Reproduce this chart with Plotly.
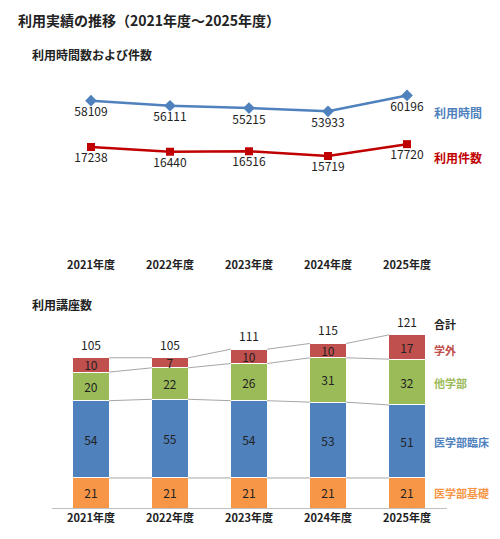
import plotly.graph_objects as go

years = ['2021年度', '2022年度', '2023年度', '2024年度', '2025年度']
hours = [58109, 56111, 55215, 53933, 60196]
cases = [17238, 16440, 16516, 15719, 17720]

kiso = [21, 21, 21, 21, 21]
rinsho = [54, 55, 54, 53, 51]
tagakubu = [20, 22, 26, 31, 32]
gakugai = [10, 7, 10, 10, 17]
totals = [105, 105, 111, 115, 121]

H = 539.0
OFF = 6  # rendered output sits a few px lower than the nominal layout
def py(p):
    return 1 - (p - OFF) / H

x = list(range(len(years)))
fig = go.Figure()

# top: line chart (two scales, as in the source)
fig.add_trace(go.Scatter(x=x, y=hours, mode='lines+markers+text', text=[str(v) for v in hours],
                         textposition='bottom center', textfont=dict(size=12, color='#222'),
                         line=dict(color='#4F81BD', width=2.5), marker=dict(symbol='diamond', size=9),
                         xaxis='x', yaxis='y', cliponaxis=False))
fig.add_trace(go.Scatter(x=x, y=cases, mode='lines+markers+text', text=[str(v) for v in cases],
                         textposition='bottom center', textfont=dict(size=12, color='#222'),
                         line=dict(color='#C00000', width=2.5), marker=dict(symbol='square', size=8),
                         xaxis='x', yaxis='y3', cliponaxis=False))

# bottom: stacked bars
w = 0.46
for vals, col in [(kiso, '#F79646'), (rinsho, '#4F81BD'), (tagakubu, '#9BBB59'), (gakugai, '#C0504D')]:
    fig.add_trace(go.Bar(x=x, y=vals, width=w, marker=dict(color=col, line=dict(color='white', width=1)),
                         text=[str(v) for v in vals], textposition='inside', insidetextanchor='middle',
                         textangle=0, constraintext='none',
                         textfont=dict(size=12, color='#222'), xaxis='x2', yaxis='y2'))

# connector lines between segment boundaries
levels = [kiso]
cum = kiso[:]
for s in [rinsho, tagakubu, gakugai]:
    cum = [a + b for a, b in zip(cum, s)]
    levels.append(cum)
lx, ly = [], []
for lev in levels:
    for i in range(len(x) - 1):
        lx += [x[i] + w / 2, x[i + 1] - w / 2, None]
        ly += [lev[i], lev[i + 1], None]
fig.add_trace(go.Scatter(x=lx, y=ly, mode='lines', line=dict(color='#A6A6A6', width=1),
                         xaxis='x2', yaxis='y2', hoverinfo='skip'))
for xi, t in zip(x, totals):
    fig.add_annotation(x=xi, y=t, xref='x2', yref='y2', text=str(t), showarrow=False,
                       yanchor='bottom', yshift=3, font=dict(size=12, color='#222'))

xd = [43.5 / 500, 438.5 / 500]
bold_years = ['<b>' + y + '</b>' for y in years]
fig.update_layout(
    width=500, height=539, margin=dict(l=0, r=0, t=0, b=0),
    paper_bgcolor='white', plot_bgcolor='white', showlegend=False, barmode='stack',
    font=dict(family='Noto Sans CJK JP', size=11, color='#222'),
    xaxis=dict(domain=xd, range=[-0.5, 4.5], tickvals=x, ticktext=bold_years, showgrid=False,
               zeroline=False, showline=False, anchor='y', ticks='', tickfont=dict(size=11)),
    yaxis=dict(domain=[py(255), py(80)], range=[-3426, 65471], visible=False),
    yaxis3=dict(domain=[py(255), py(80)], range=[-1343, 28218], visible=False, overlaying='y'),
    xaxis2=dict(domain=xd, range=[-0.5, 4.5], tickvals=x, ticktext=bold_years, showgrid=False,
                zeroline=False, showline=True, linecolor='#BFBFBF', anchor='y2', ticks='',
                tickfont=dict(size=11)),
    yaxis2=dict(domain=[py(506), py(310)], range=[0, 137], visible=False),
)

ann = [
    (8, 18, '利用実績の推移（2021年度～2025年度）', 14, '#222'),
    (22, 52, '利用時間数および件数', 12, '#222'),
    (22, 303, '利用講座数', 12, '#222'),
    (424, 110, '利用時間', 12, '#4F81BD'),
    (424, 156, '利用件数', 12, '#C00000'),
    (424, 322, '合計', 11, '#222'),
    (424, 348, '学外', 11, '#C0504D'),
    (424, 381, '他学部', 11, '#9BBB59'),
    (424, 440, '医学部臨床', 11, '#4F81BD'),
    (424, 491, '医学部基礎', 11, '#F79646'),
]
for ax, ay, t, s, c in ann:
    fig.add_annotation(x=ax / 500, y=py(ay), xref='paper', yref='paper', text='<b>' + t + '</b>',
                       showarrow=False, xanchor='left', yanchor='middle', font=dict(size=s, color=c))

fig.write_html('out.html')
